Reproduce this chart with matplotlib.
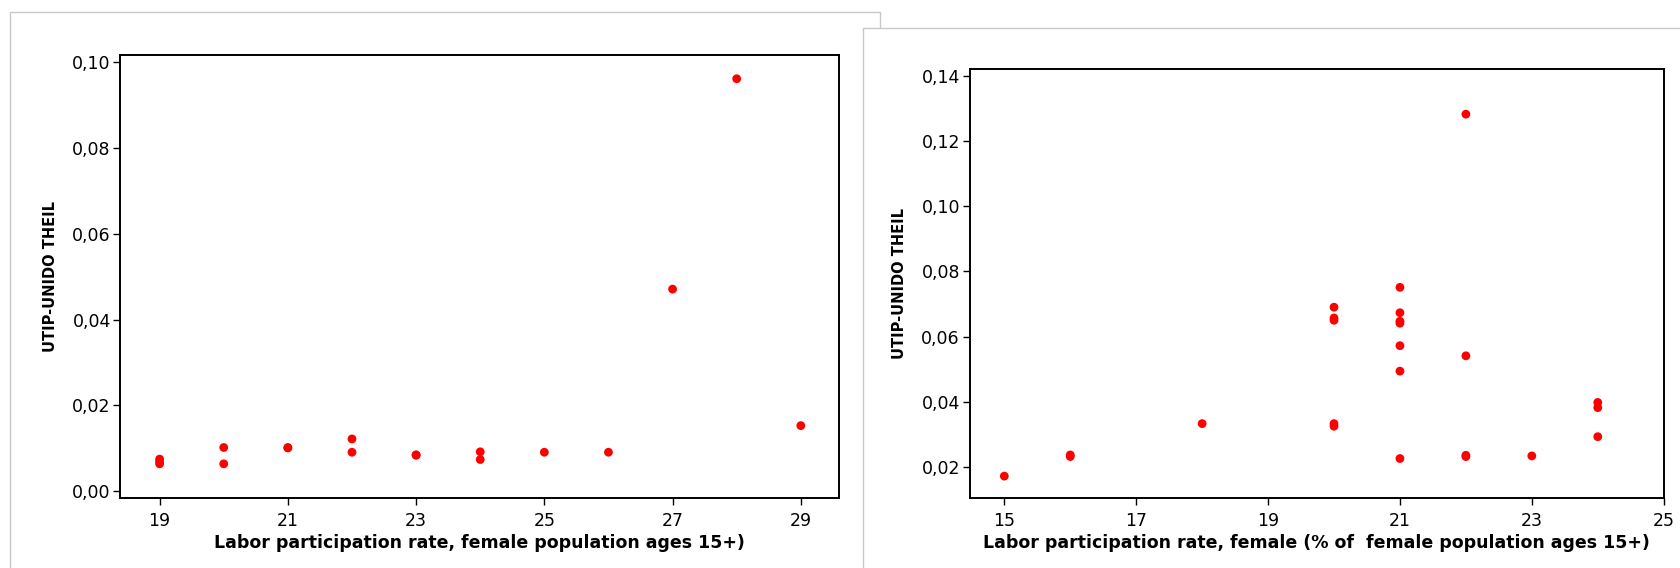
import matplotlib
matplotlib.use("Agg")
import matplotlib.pyplot as plt
from matplotlib.patches import Rectangle
from matplotlib.ticker import FuncFormatter

# left panel: UTIP-UNIDO Theil vs labor participation (female pop. 15+)
left_x = [19, 19, 19, 20, 20, 21, 21, 22, 22, 23, 23, 24, 24, 25, 26, 27, 28, 29]
left_y = [0.0075, 0.0069, 0.0064, 0.0102, 0.0064, 0.0101, 0.0102, 0.0122, 0.0091,
          0.0084, 0.0085, 0.0092, 0.0074, 0.0091, 0.0091, 0.0471, 0.0961, 0.0153]
left_xticks = [19, 21, 23, 25, 27, 29]
left_yticks = [0.00, 0.02, 0.04, 0.06, 0.08, 0.10]

# right panel: same index vs female labor participation (% of female pop. 15+)
right_x = [15, 16, 16, 18, 20, 20, 20, 20, 20, 21, 21, 21, 21, 21, 21, 21,
           22, 22, 22, 22, 23, 24, 24, 24]
right_y = [0.0172, 0.0232, 0.0237, 0.0333, 0.0690, 0.0657, 0.0650, 0.0333, 0.0325,
           0.0751, 0.0673, 0.0647, 0.0641, 0.0572, 0.0494, 0.0226,
           0.1282, 0.0541, 0.0232, 0.0236, 0.0234, 0.0398, 0.0382, 0.0293]
right_xticks = [15, 17, 19, 21, 23, 25]
right_yticks = [0.02, 0.04, 0.06, 0.08, 0.10, 0.12, 0.14]

ylabel = "UTIP-UNIDO THEIL"
left_xlabel = "Labor participation rate, female population ages 15+)"
right_xlabel = "Labor participation rate, female (% of  female population ages 15+)"

plt.rcParams['font.family'] = ['DejaVu Sans']

W, H = 1681, 568
fig = plt.figure(figsize=(W / 100, H / 100), dpi=100)

# gray graph-window borders, right window laid over the left one
def px_rect(x0, y0, x1, y1, z):
    return Rectangle((x0 / W, 1 - y1 / H), (x1 - x0) / W, (y1 - y0) / H,
                     transform=fig.transFigure, facecolor='white',
                     edgecolor='#c8c8c8', linewidth=1.0, zorder=z)

fig.patches.append(px_rect(10, 12, 880, 575, -20))
fig.patches.append(px_rect(862.7, 28.3, 1690, 575, -10))

comma = FuncFormatter(lambda v, pos: f"{v:.2f}".replace('.', ','))


def make_panel(rect, xs, ys, xticks, yticks, xlim, ylim, xlabel):
    x0, y0, x1, y1 = rect
    ax = fig.add_axes([x0 / W, 1 - y1 / H, (x1 - x0) / W, (y1 - y0) / H])
    ax.set_facecolor('none')
    ax.scatter(xs, ys, s=40, color='#ff0000', edgecolors='none', zorder=3)
    ax.set_xlim(*xlim)
    ax.set_ylim(*ylim)
    ax.set_xticks(xticks)
    ax.set_yticks(yticks)
    ax.yaxis.set_major_formatter(comma)
    for sp in ax.spines.values():
        sp.set_linewidth(1.4)
    ax.tick_params(direction='out', length=5, width=1.0, labelsize=12.5)
    ax.tick_params(axis='y', pad=2)
    ax.tick_params(axis='x', pad=5)
    ax.set_xlabel(xlabel, fontsize=12.5, fontweight='bold', labelpad=3)
    ax.set_ylabel(ylabel, fontsize=10.5, fontweight='bold', labelpad=10)
    return ax


make_panel((120.5, 54.7, 839.3, 498.3), left_x, left_y, left_xticks, left_yticks,
           (18.39, 29.6), (-0.00163, 0.1017), left_xlabel)
make_panel((969.7, 69.3, 1663.7, 498.3), right_x, right_y, right_xticks, right_yticks,
           (14.475, 25.0), (0.0104, 0.14196), right_xlabel)

fig.savefig("out.png", dpi=100)
